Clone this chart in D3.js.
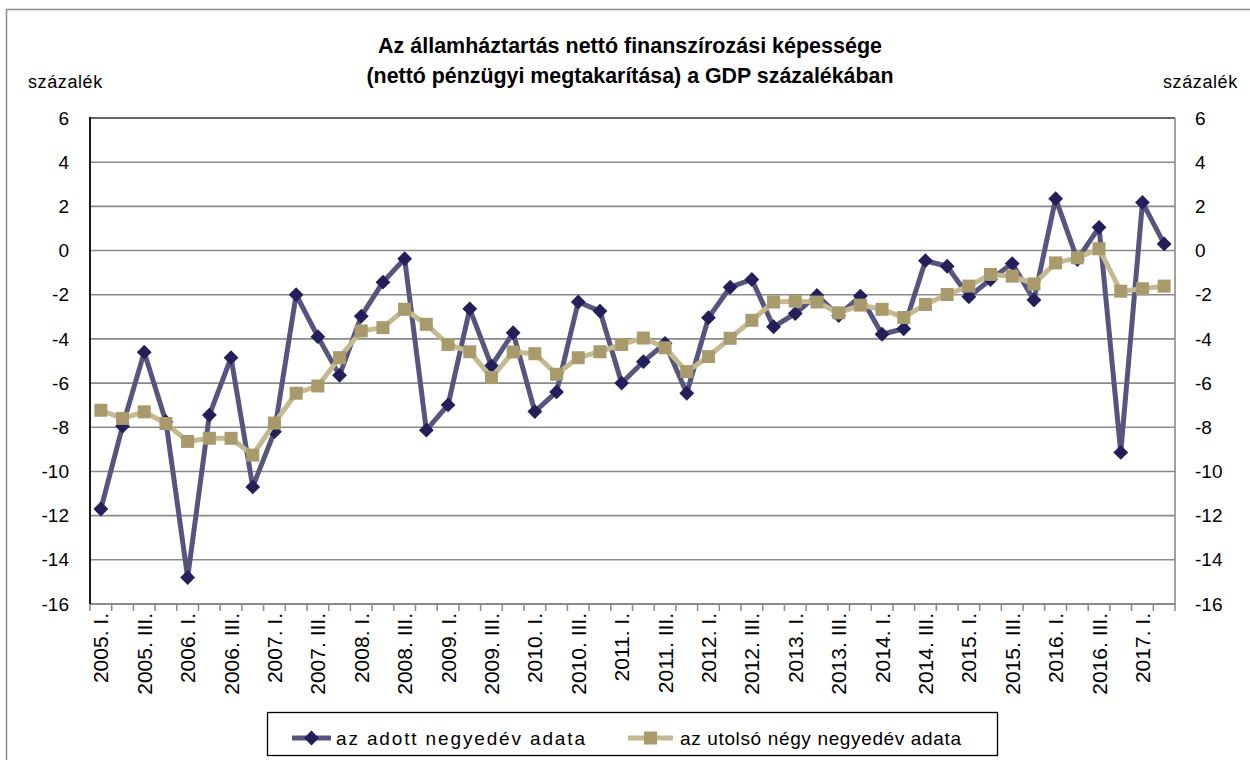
<!DOCTYPE html>
<html>
<head>
<meta charset="utf-8">
<script src="https://cdn.jsdelivr.net/npm/d3@7"></script>
<style>
  html, body { margin: 0; padding: 0; background: #fff; }
  svg { display: block; }
  text { font-family: "Liberation Sans", Arial, sans-serif; fill: #000; }
</style>
</head>
<body>
<svg id="chart" width="1250" height="760"></svg>
<script>
const categories = [
  "2005. I.","2005. II.","2005. III.","2005. IV.",
  "2006. I.","2006. II.","2006. III.","2006. IV.",
  "2007. I.","2007. II.","2007. III.","2007. IV.",
  "2008. I.","2008. II.","2008. III.","2008. IV.",
  "2009. I.","2009. II.","2009. III.","2009. IV.",
  "2010. I.","2010. II.","2010. III.","2010. IV.",
  "2011. I.","2011. II.","2011. III.","2011. IV.",
  "2012. I.","2012. II.","2012. III.","2012. IV.",
  "2013. I.","2013. II.","2013. III.","2013. IV.",
  "2014. I.","2014. II.","2014. III.","2014. IV.",
  "2015. I.","2015. II.","2015. III.","2015. IV.",
  "2016. I.","2016. II.","2016. III.","2016. IV.",
  "2017. I.","2017. II."
];
const tickLabels = [
  "2005. I.","2005. III.","2006. I.","2006. III.","2007. I.","2007. III.",
  "2008. I.","2008. III.","2009. I.","2009. III.","2010. I.","2010. III.",
  "2011. I.","2011. III.","2012. I.","2012. III.","2013. I.","2013. III.",
  "2014. I.","2014. III.","2015. I.","2015. III.","2016. I.","2016. III.",
  "2017. I."
];
const quarterly = [
  -11.7, -7.95, -4.6, -7.75,
  -14.8, -7.45, -4.85, -10.7,
  -8.2, -2.0, -3.9, -5.65,
  -2.97, -1.43, -0.37, -8.13,
  -6.99, -2.64, -5.22, -3.72,
  -7.29, -6.4, -2.33, -2.74,
  -6.0, -5.03, -4.2, -6.46,
  -3.04, -1.66, -1.31, -3.45,
  -2.85, -2.03, -2.94, -2.06,
  -3.79, -3.54, -0.46, -0.71,
  -2.09, -1.31, -0.59, -2.24,
  2.35, -0.41, 1.05, -9.14,
  2.18, 0.3
];
const rolling = [
  -7.23, -7.6, -7.3, -7.83,
  -8.64, -8.5, -8.5, -9.26,
  -7.81, -6.46, -6.13, -4.85,
  -3.64, -3.49, -2.66, -3.34,
  -4.25, -4.58, -5.75, -4.59,
  -4.67, -5.6, -4.85, -4.58,
  -4.25, -3.96, -4.4, -5.48,
  -4.8, -3.97, -3.16, -2.33,
  -2.29, -2.33, -2.82, -2.47,
  -2.66, -3.03, -2.44, -1.99,
  -1.61, -1.08, -1.16, -1.51,
  -0.56, -0.33, 0.08, -1.84,
  -1.73, -1.61
];
const yTicks = [6, 4, 2, 0, -2, -4, -6, -8, -10, -12, -14, -16];
const seriesNames = ["az adott negyedév adata", "az utolsó négy negyedév adata"];
const titleLines = ["Az államháztartás nettó finanszírozási képessége",
                    "(nettó pénzügyi megtakarítása) a GDP százalékában"];
const unitLabel = "százalék";

const svg = d3.select("#chart");
const L = 90, R = 1175, T = 118, B = 604;

// outer border
svg.append("rect").attr("x", 6.5).attr("y", 9.5).attr("width", 1400).attr("height", 1000)
  .attr("fill", "none").attr("stroke", "#8c8c8c").attr("stroke-width", 1.5);

const x = d3.scaleBand().domain(categories).range([L, R]).padding(0);
const y = d3.scaleLinear().domain([-16, 6]).range([B, T]);
const cx = d => x(d) + x.bandwidth() / 2;

// gridlines
svg.append("g").selectAll("line").data(yTicks.filter(v => v !== -16)).join("line")
  .attr("x1", L).attr("x2", R).attr("y1", d => y(d)).attr("y2", d => y(d))
  .attr("stroke", d => d === 6 ? "#333" : "#8a8a8a").attr("stroke-width", 1.6);

// right border
svg.append("line").attr("x1", R).attr("x2", R).attr("y1", T).attr("y2", B)
  .attr("stroke", "#8a8a8a").attr("stroke-width", 1.6);

// x axis
const xAxis = d3.axisBottom(x).tickSize(0).tickFormat("");
const gx = svg.append("g").attr("transform", `translate(0,${B})`).call(xAxis);
gx.select(".domain").remove();
svg.append("line").attr("x1", L).attr("x2", R + 1).attr("y1", B).attr("y2", B)
  .attr("stroke", "#8a8a8a").attr("stroke-width", 2);
// boundary ticks
const bounds = categories.map(c => x(c)).concat([R]);
svg.append("g").selectAll("line").data(bounds).join("line")
  .attr("x1", d => d).attr("x2", d => d).attr("y1", B).attr("y2", B + 7)
  .attr("stroke", "#8a8a8a").attr("stroke-width", 1.5);
// x labels
svg.append("g").selectAll("text").data(tickLabels).join("text")
  .attr("transform", d => `translate(${cx(d)},${B + 9}) rotate(-90)`)
  .attr("text-anchor", "end").attr("dy", "0.36em")
  .style("font-size", "21px").text(d => d);

// left axis
const fmt = d => String(d);
const yAxisL = d3.axisLeft(y).tickValues(yTicks).tickSize(0).tickPadding(21).tickFormat(fmt);
const gyl = svg.append("g").attr("transform", `translate(${L},0)`).call(yAxisL);
gyl.select(".domain").remove();
gyl.selectAll("text").style("font-size", "19px").style("font-family", "'Liberation Sans', Arial, sans-serif").attr("fill", "#000");
svg.append("line").attr("x1", L).attr("x2", L).attr("y1", T - 1).attr("y2", B)
  .attr("stroke", "#000").attr("stroke-width", 1.8);

// right axis
const yAxisR = d3.axisRight(y).tickValues(yTicks).tickSize(0).tickPadding(20).tickFormat(fmt);
const gyr = svg.append("g").attr("transform", `translate(${R},0)`).call(yAxisR);
gyr.select(".domain").remove();
gyr.selectAll("text").style("font-size", "19px").style("font-family", "'Liberation Sans', Arial, sans-serif").attr("fill", "#000");

// unit labels
svg.append("text").attr("x", 28).attr("y", 88).style("font-size", "18px")
  .style("letter-spacing", "0.6px").text(unitLabel);
svg.append("text").attr("x", 1163).attr("y", 88).style("font-size", "18px")
  .style("letter-spacing", "0.6px").text(unitLabel);

// title
svg.append("text").attr("x", 630).attr("y", 53).attr("text-anchor", "middle")
  .style("font-size", "22px").style("font-weight", "bold")
  .attr("textLength", 504).attr("lengthAdjust", "spacingAndGlyphs").text(titleLines[0]);
svg.append("text").attr("x", 630).attr("y", 83).attr("text-anchor", "middle")
  .style("font-size", "22px").style("font-weight", "bold")
  .attr("textLength", 527).attr("lengthAdjust", "spacingAndGlyphs").text(titleLines[1]);

// series
const blueLine = "#56557f", blueMark = "#221f5a";
const tanLine = "#c4b991", tanMark = "#a99a6c";
const lineGen = d3.line().x((d, i) => cx(categories[i])).y(d => y(d));

svg.append("path").datum(quarterly).attr("d", lineGen)
  .attr("fill", "none").attr("stroke", blueLine).attr("stroke-width", 5)
  .attr("stroke-linejoin", "round");
svg.append("g").selectAll("path").data(quarterly).join("path")
  .attr("d", d3.symbol(d3.symbolDiamond2, 140))
  .attr("transform", (d, i) => `translate(${cx(categories[i])},${y(d)})`)
  .attr("fill", blueMark);

svg.append("path").datum(rolling).attr("d", lineGen)
  .attr("fill", "none").attr("stroke", tanLine).attr("stroke-width", 5)
  .attr("stroke-linejoin", "round");
svg.append("g").selectAll("rect").data(rolling).join("rect")
  .attr("x", (d, i) => cx(categories[i]) - 6.5).attr("y", d => y(d) - 6.5)
  .attr("width", 13).attr("height", 13).attr("fill", tanMark);

// legend
svg.append("rect").attr("x", 267.5).attr("y", 712.5).attr("width", 730).attr("height", 43)
  .attr("fill", "#fff").attr("stroke", "#000").attr("stroke-width", 1.3);
const ly = 738;
svg.append("line").attr("x1", 292).attr("x2", 331).attr("y1", ly).attr("y2", ly)
  .attr("stroke", blueLine).attr("stroke-width", 5);
svg.append("path").attr("d", d3.symbol(d3.symbolDiamond2, 140))
  .attr("transform", `translate(311.5,${ly})`).attr("fill", blueMark);
svg.append("text").attr("x", 336).attr("y", ly + 7).style("font-size", "19px")
  .attr("textLength", 249).attr("lengthAdjust", "spacing").text(seriesNames[0]);
svg.append("line").attr("x1", 628).attr("x2", 673).attr("y1", ly).attr("y2", ly)
  .attr("stroke", tanLine).attr("stroke-width", 5);
svg.append("rect").attr("x", 644).attr("y", ly - 6.5).attr("width", 13).attr("height", 13)
  .attr("fill", tanMark);
svg.append("text").attr("x", 680).attr("y", ly + 7).style("font-size", "19px")
  .attr("textLength", 281).attr("lengthAdjust", "spacing").text(seriesNames[1]);
</script>
</body>
</html>
